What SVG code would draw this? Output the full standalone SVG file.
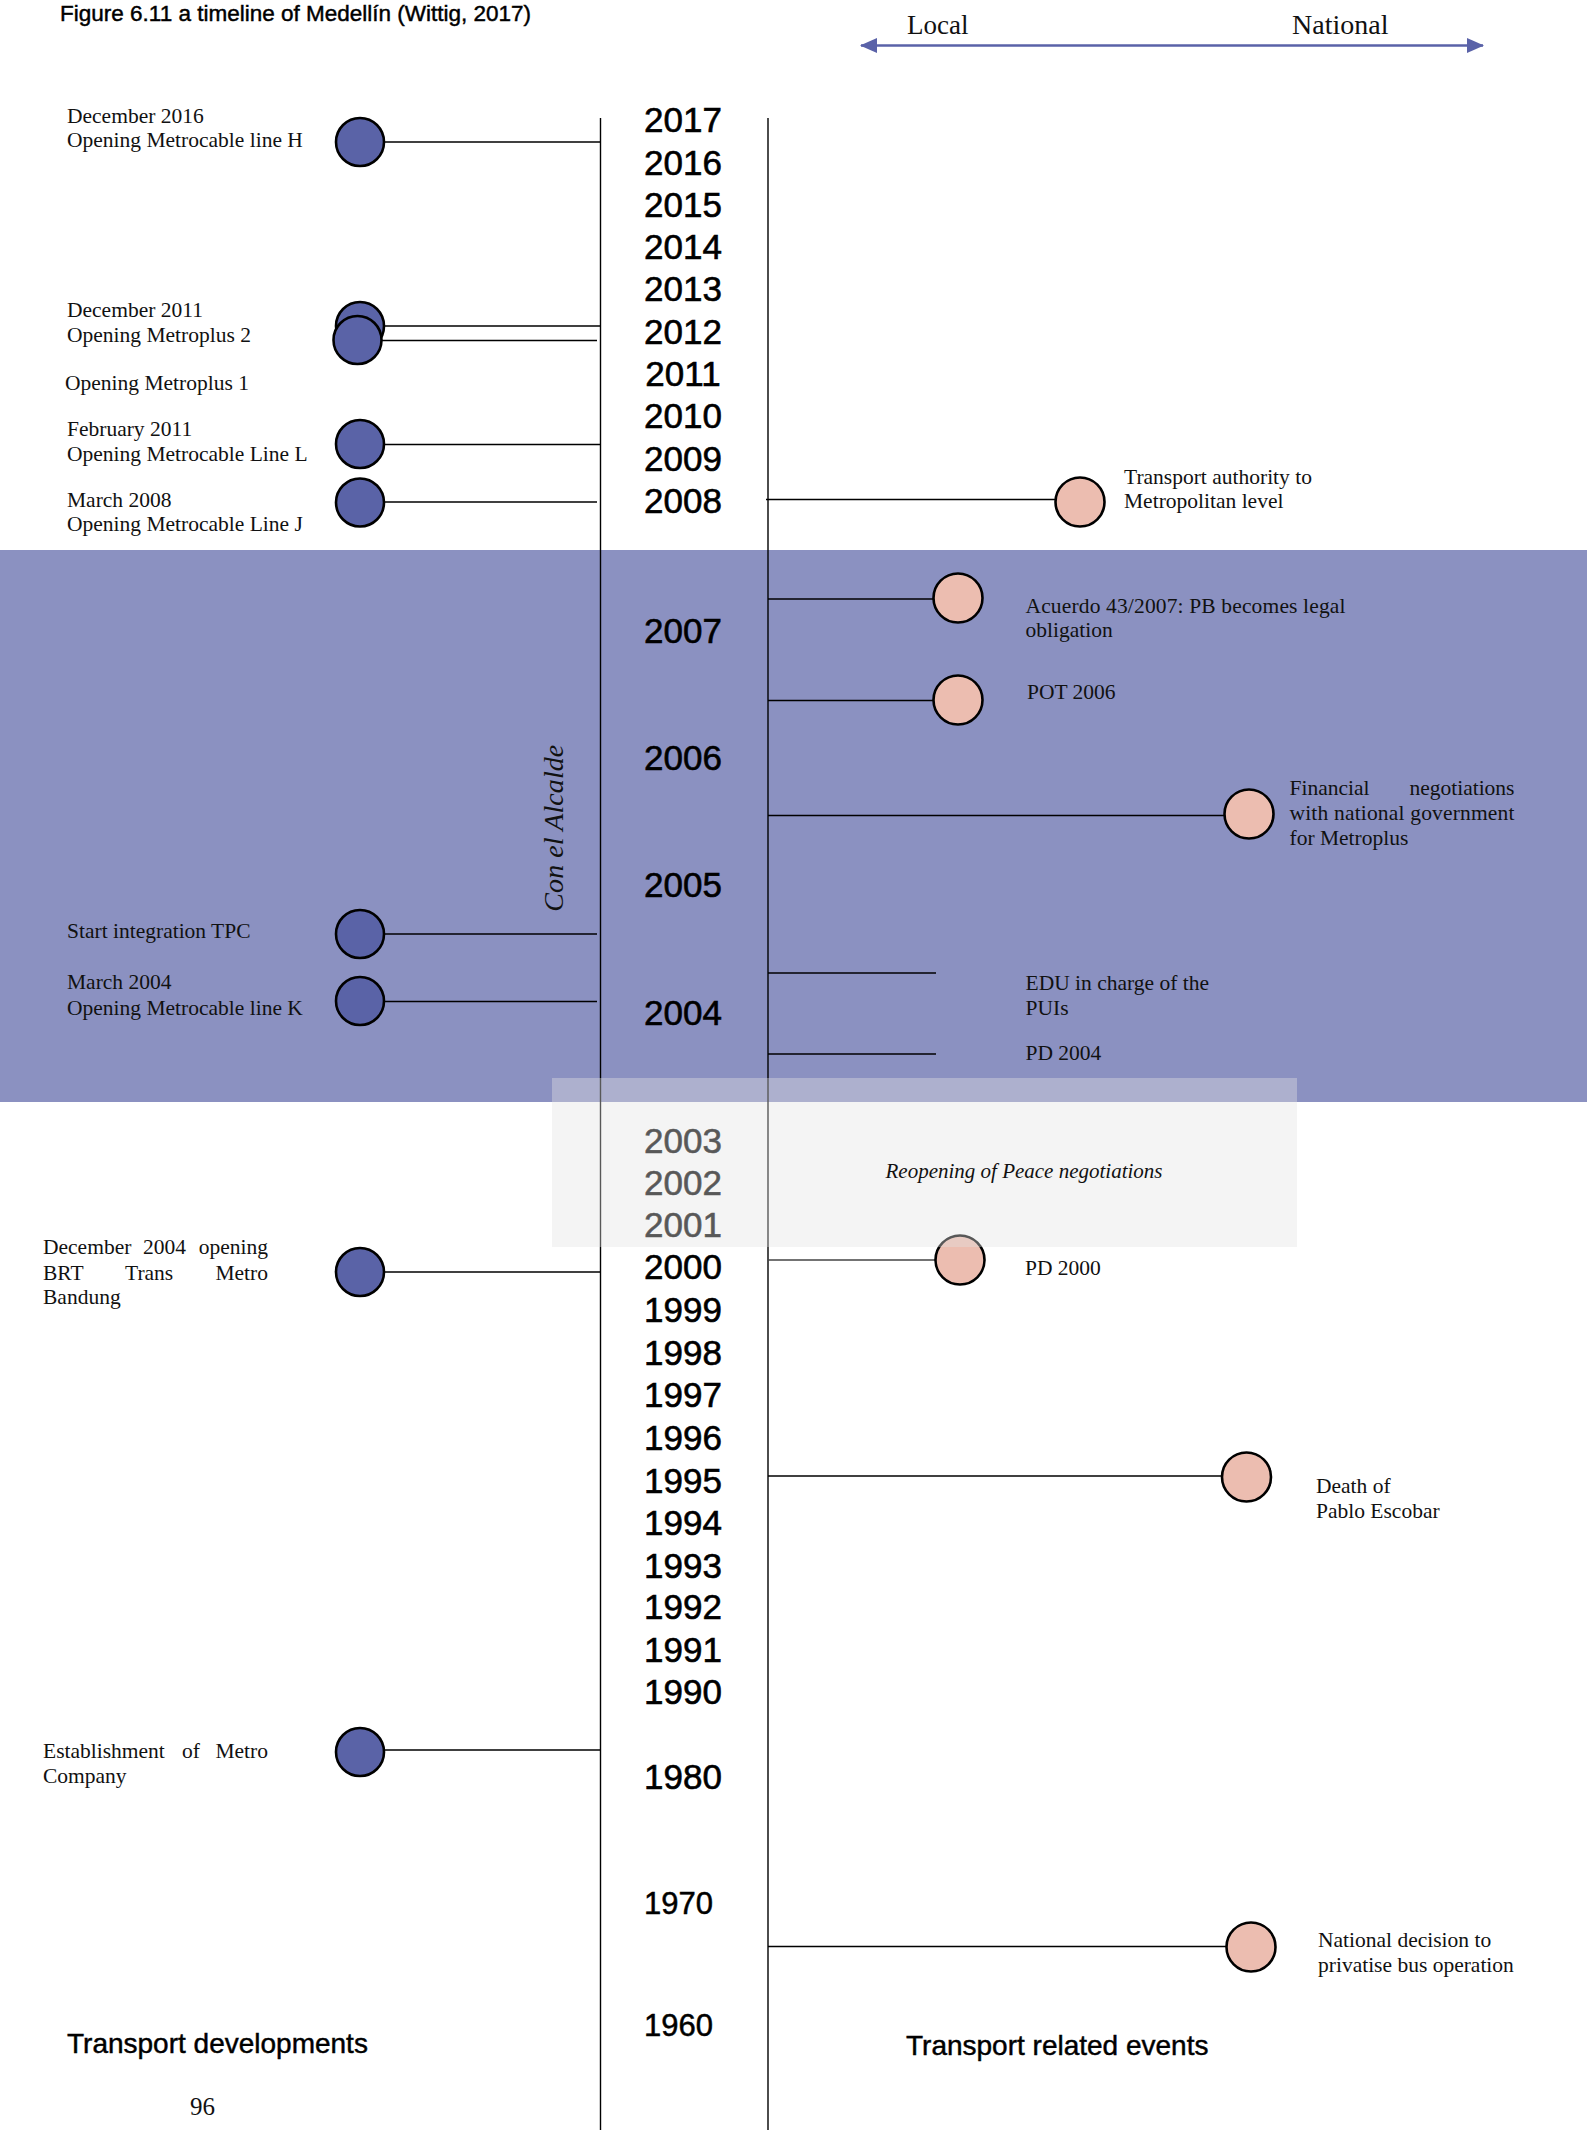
<svg xmlns="http://www.w3.org/2000/svg" width="1587" height="2130" viewBox="0 0 1587 2130">
  <style>
    .sans { font-family: "Liberation Sans", Arial, sans-serif; fill: #000; stroke: #000; stroke-width: 0.45px; }
    .year { font-family: "Liberation Sans", Arial, sans-serif; font-size: 35px; fill: #000; stroke: #000; stroke-width: 0.6px; text-anchor: middle; }
    .year-old { font-family: "Liberation Sans", Arial, sans-serif; font-size: 31px; fill: #000; stroke: #000; stroke-width: 0.5px; text-anchor: start; }
    .serif { font-family: "Liberation Serif", "Times New Roman", serif; font-size: 21.5px; fill: #111; }
    .ital { font-style: italic; }
    .axis { stroke: #000; stroke-width: 1.4; }
    .conn { stroke: #000; stroke-width: 1.6; fill: none; }
    .dev { fill: #5a63a7; stroke: #000; stroke-width: 2.6; }
    .evt { fill: #ecbdb0; stroke: #000; stroke-width: 2.6; }
  </style>
  <defs>
    <marker id="scaleHead" markerUnits="userSpaceOnUse" markerWidth="17" markerHeight="15" viewBox="0 0 17 15" refX="16" refY="7.5" orient="auto-start-reverse">
      <path d="M0,0 L17,7.5 L0,15 z" fill="#5a62a8"/>
    </marker>
  </defs>

  <rect x="0" y="0" width="1587" height="2130" fill="#fff"/>

  <!-- mayoral period band -->
  <rect id="band-alcalde" x="0" y="550" width="1587" height="552" fill="#8b91c1"/>

  <!-- title and scale -->
  <text class="sans" x="60" y="21" style="font-size:22.5px">Figure 6.11 a timeline of Medellín (Wittig, 2017)</text>
  <g id="scale">
    <text class="serif" x="907" y="34" style="font-size:27px">Local</text>
    <text class="serif" x="1292" y="34" style="font-size:28px">National</text>
    <line x1="861" y1="45.5" x2="1483" y2="45.5" stroke="#5a62a8" stroke-width="2.5" marker-start="url(#scaleHead)" marker-end="url(#scaleHead)"/>
  </g>

  <!-- timeline axes -->
  <g id="axes">
    <line class="axis" x1="600.5" y1="118" x2="600.5" y2="2130"/>
    <line class="axis" x1="768" y1="118" x2="768" y2="2130"/>
  </g>

  <!-- year scale -->
  <g id="years">
    <text class="year" x="683" y="132">2017</text>
    <text class="year" x="683" y="174.5">2016</text>
    <text class="year" x="683" y="217">2015</text>
    <text class="year" x="683" y="259">2014</text>
    <text class="year" x="683" y="301">2013</text>
    <text class="year" x="683" y="344">2012</text>
    <text class="year" x="683" y="386">2011</text>
    <text class="year" x="683" y="428">2010</text>
    <text class="year" x="683" y="471">2009</text>
    <text class="year" x="683" y="513">2008</text>
    <text class="year" x="683" y="642.5">2007</text>
    <text class="year" x="683" y="770">2006</text>
    <text class="year" x="683" y="897">2005</text>
    <text class="year" x="683" y="1025">2004</text>
    <text class="year" x="683" y="1152.5">2003</text>
    <text class="year" x="683" y="1195">2002</text>
    <text class="year" x="683" y="1237">2001</text>
    <text class="year" x="683" y="1279">2000</text>
    <text class="year" x="683" y="1322">1999</text>
    <text class="year" x="683" y="1365">1998</text>
    <text class="year" x="683" y="1407">1997</text>
    <text class="year" x="683" y="1450">1996</text>
    <text class="year" x="683" y="1492.5">1995</text>
    <text class="year" x="683" y="1535">1994</text>
    <text class="year" x="683" y="1577.5">1993</text>
    <text class="year" x="683" y="1619">1992</text>
    <text class="year" x="683" y="1661.5">1991</text>
    <text class="year" x="683" y="1704">1990</text>
    <text class="year" x="683" y="1789">1980</text>
    <text class="year-old" x="644" y="1914">1970</text>
    <text class="year-old" x="644" y="2036">1960</text>
  </g>

  <!-- period label -->
  <text class="serif ital" transform="translate(563,911.7) rotate(-90)" style="font-size:28px" textLength="167" lengthAdjust="spacing">Con el Alcalde</text>

  <!-- connectors from events to the axes -->
  <g id="connectors">
    <line class="conn" x1="385" y1="142" x2="600" y2="142"/>
    <line class="conn" x1="385" y1="326" x2="600" y2="326"/>
    <line class="conn" x1="382" y1="340.5" x2="597" y2="340.5"/>
    <line class="conn" x1="385" y1="444.5" x2="600" y2="444.5"/>
    <line class="conn" x1="385" y1="502" x2="597" y2="502"/>
    <line class="conn" x1="385" y1="934" x2="597" y2="934"/>
    <line class="conn" x1="385" y1="1001.5" x2="597" y2="1001.5"/>
    <line class="conn" x1="385" y1="1272" x2="600" y2="1272"/>
    <line class="conn" x1="385" y1="1750" x2="600" y2="1750"/>
    <line class="conn" x1="766" y1="499.5" x2="1056" y2="499.5"/>
    <line class="conn" x1="768" y1="599" x2="934" y2="599"/>
    <line class="conn" x1="768" y1="700.5" x2="934" y2="700.5"/>
    <line class="conn" x1="768" y1="815.5" x2="1225" y2="815.5"/>
    <line class="conn" x1="768" y1="973" x2="936" y2="973"/>
    <line class="conn" x1="768" y1="1054" x2="936" y2="1054"/>
    <line class="conn" x1="768" y1="1260" x2="936" y2="1260" style="stroke:#444"/>
    <line class="conn" x1="768" y1="1476" x2="1223" y2="1476"/>
    <line class="conn" x1="768" y1="1946.5" x2="1227" y2="1946.5"/>
  </g>

  <!-- transport developments -->
  <g id="dev-metrocable-h">
    <circle class="dev" cx="360" cy="142" r="24"/>
    <text class="serif" x="67" y="122.5">December 2016</text>
    <text class="serif" x="67" y="146.5">Opening Metrocable line H</text>
  </g>
  <g id="dev-metroplus-1">
    <circle class="dev" cx="360" cy="326" r="24"/>
    <text class="serif" x="65" y="390">Opening Metroplus 1</text>
  </g>
  <g id="dev-metroplus-2">
    <circle class="dev" cx="357.5" cy="340" r="24"/>
    <text class="serif" x="67" y="317">December 2011</text>
    <text class="serif" x="67" y="342">Opening Metroplus 2</text>
  </g>
  <g id="dev-metrocable-l">
    <circle class="dev" cx="360" cy="444" r="24"/>
    <text class="serif" x="67" y="436">February 2011</text>
    <text class="serif" x="67" y="461">Opening Metrocable Line L</text>
  </g>
  <g id="dev-metrocable-j">
    <circle class="dev" cx="360" cy="502.5" r="24"/>
    <text class="serif" x="67" y="506.5">March 2008</text>
    <text class="serif" x="67" y="531">Opening Metrocable Line J</text>
  </g>
  <g id="dev-tpc">
    <circle class="dev" cx="360" cy="934" r="24"/>
    <text class="serif" x="67" y="938">Start integration TPC</text>
  </g>
  <g id="dev-metrocable-k">
    <circle class="dev" cx="360" cy="1001" r="24"/>
    <text class="serif" x="67" y="989">March 2004</text>
    <text class="serif" x="67" y="1015">Opening Metrocable line K</text>
  </g>
  <g id="dev-brt-bandung">
    <circle class="dev" cx="360" cy="1272" r="24"/>
    <text class="serif" y="1254"><tspan x="43">December</tspan><tspan x="143">2004</tspan><tspan x="268" text-anchor="end">opening</tspan></text>
    <text class="serif" y="1280"><tspan x="43">BRT</tspan><tspan x="125">Trans</tspan><tspan x="268" text-anchor="end">Metro</tspan></text>
    <text class="serif" x="43" y="1304">Bandung</text>
  </g>
  <g id="dev-metro-company">
    <circle class="dev" cx="360" cy="1752" r="24"/>
    <text class="serif" y="1758"><tspan x="43">Establishment</tspan><tspan x="182">of</tspan><tspan x="268" text-anchor="end">Metro</tspan></text>
    <text class="serif" x="43" y="1783">Company</text>
  </g>

  <!-- transport related events -->
  <g id="evt-authority">
    <circle class="evt" cx="1080" cy="502" r="24.5"/>
    <text class="serif" x="1124" y="484">Transport authority to</text>
    <text class="serif" x="1124" y="508">Metropolitan level</text>
  </g>
  <g id="evt-acuerdo">
    <circle class="evt" cx="958" cy="598" r="24.5"/>
    <text class="serif" x="1025.5" y="612.5" textLength="320" lengthAdjust="spacing">Acuerdo 43/2007: PB becomes legal</text>
    <text class="serif" x="1025.5" y="637">obligation</text>
  </g>
  <g id="evt-pot">
    <circle class="evt" cx="958" cy="700" r="24.5"/>
    <text class="serif" x="1027" y="699">POT 2006</text>
  </g>
  <g id="evt-financial">
    <circle class="evt" cx="1249" cy="814" r="24.5"/>
    <text class="serif" y="795"><tspan x="1289.5">Financial</tspan><tspan x="1514.5" text-anchor="end">negotiations</tspan></text>
    <text class="serif" x="1289.5" y="820" textLength="225" lengthAdjust="spacing">with national government</text>
    <text class="serif" x="1289.5" y="845">for Metroplus</text>
  </g>
  <g id="evt-edu">
    <text class="serif" x="1025.5" y="990">EDU in charge of the</text>
    <text class="serif" x="1025.5" y="1015">PUIs</text>
  </g>
  <g id="evt-pd2004">
    <text class="serif" x="1025.5" y="1059.5">PD 2004</text>
  </g>
  <g id="evt-pd2000">
    <circle class="evt" cx="960" cy="1260" r="24.5"/>
    <text class="serif" x="1025" y="1274.5">PD 2000</text>
  </g>
  <g id="evt-escobar">
    <circle class="evt" cx="1246.5" cy="1477" r="24.5"/>
    <text class="serif" x="1316" y="1492.5">Death of</text>
    <text class="serif" x="1316" y="1517.5">Pablo Escobar</text>
  </g>
  <g id="evt-privatise">
    <circle class="evt" cx="1251" cy="1947" r="24.5"/>
    <text class="serif" x="1318" y="1947">National decision to</text>
    <text class="serif" x="1318" y="1972">privatise bus operation</text>
  </g>

  <!-- peace negotiations period, a translucent veil over the axes -->
  <g id="peace-period">
    <rect x="552" y="1078" width="745" height="169" fill="#e3e3e3" fill-opacity="0.39"/>
    <text class="serif ital" x="885.5" y="1178" style="font-size:21px" textLength="277" lengthAdjust="spacingAndGlyphs">Reopening of Peace negotiations</text>
  </g>

  <!-- column headings and page number -->
  <text class="sans" x="67" y="2053" style="font-size:28px">Transport developments</text>
  <text class="sans" x="906" y="2055" style="font-size:28px">Transport related events</text>
  <text class="serif" x="190" y="2115" style="font-size:25px">96</text>
</svg>
